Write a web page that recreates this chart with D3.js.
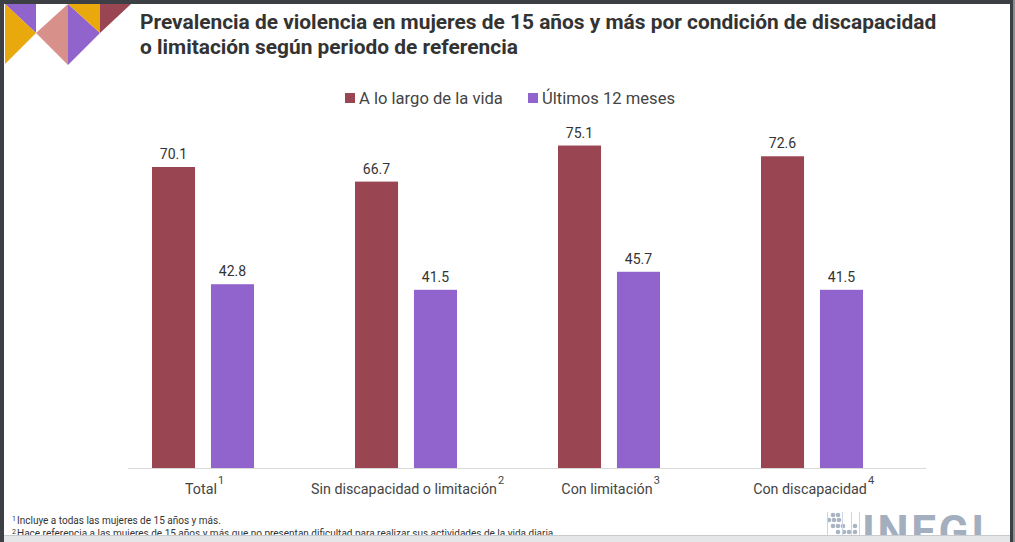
<!DOCTYPE html>
<html><head><meta charset="utf-8">
<script src="https://cdn.jsdelivr.net/npm/d3@7"></script>
<style>
html,body{margin:0;padding:0;background:#fff;}
svg{display:block;font-family:Roboto, "Noto Sans", sans-serif;}
</style></head>
<body><svg id="c" width="1015" height="542"></svg>
<script>
const categories = ["Total", "Sin discapacidad o limitación", "Con limitación", "Con discapacidad"];
const superscripts = ["1", "2", "3", "4"];
const seriesNames = ["A lo largo de la vida", "Últimos 12 meses"];
const lifetime = [70.1, 66.7, 75.1, 72.6];
const last12 = [42.8, 41.5, 45.7, 41.5];
const titleLines = ["Prevalencia de violencia en mujeres de 15 años y más por condición de discapacidad", "o limitación según periodo de referencia"];
const footnotes = ["Incluye a todas las mujeres de 15 años y más.", "Hace referencia a las mujeres de 15 años y más que no presentan dificultad para realizar sus actividades de la vida diaria."];
const colors = ["#9a4652", "#9163cc"];

const svg = d3.select("#c");
// frame
svg.append("rect").attr("x",0).attr("y",0).attr("width",1015).attr("height",542).attr("fill","#fff");
svg.append("rect").attr("x",0).attr("y",0).attr("width",1015).attr("height",4).attr("fill","#3c3f43");
svg.append("rect").attr("x",0).attr("y",0).attr("width",4).attr("height",542).attr("fill","#3c3f43");
svg.append("rect").attr("x",1013).attr("y",0).attr("width",2).attr("height",542).attr("fill","#8a8d90");

// decoration
const deco = [
  {pts:[[5,4],[36,4],[36,33]], c:"#9163cc"},
  {pts:[[5,4],[36,33],[5,64]], c:"#e9a80c"},
  {pts:[[36,33],[68,4],[68,65]], c:"#d8918a"},
  {pts:[[68,4],[100,33],[68,65]], c:"#9163cc"},
  {pts:[[68,4],[100,4],[100,33]], c:"#e9a80c"},
  {pts:[[100,4],[131,4],[100,33]], c:"#9a4652"}
];
svg.selectAll("polygon.deco").data(deco).join("polygon").attr("class","deco")
  .attr("points", d => d.pts.map(p => p.join(",")).join(" ")).attr("fill", d => d.c);

// title
svg.selectAll("text.title").data(titleLines).join("text").attr("class","title")
  .attr("x",140).attr("y",(d,i)=>29+i*25).attr("font-size",20.9).attr("font-weight","bold")
  .attr("fill","#333").text(d=>d);

// scales
const step = 203, gw = 102, x0start = 101.5;
const x0 = d3.scaleBand().domain(categories).range([x0start, x0start + step*categories.length]);
const gx = c => x0(c) + (x0.bandwidth()-gw)/2;
const x1 = d3.scaleBand().domain(seriesNames).range([0, gw]).paddingInner(0.27);
const y = d3.scaleLinear().domain([0, 80]).range([468, 124.5]);

const data = categories.map((c,i)=>({cat:c, i, vals:[lifetime[i], last12[i]]}));
const groups = svg.append("g").selectAll("g.grp").data(data).join("g").attr("class","grp")
  .attr("transform", d => `translate(${gx(d.cat)},0)`);
groups.selectAll("rect").data(d => d.vals.map((v,k)=>({v,k}))).join("rect")
  .attr("x", d => x1(seriesNames[d.k])).attr("width", x1.bandwidth())
  .attr("y", d => y(d.v)).attr("height", d => y(0)-y(d.v)).attr("fill", d => colors[d.k]);
groups.selectAll("text.val").data(d => d.vals.map((v,k)=>({v,k}))).join("text").attr("class","val")
  .attr("x", d => x1(seriesNames[d.k]) + x1.bandwidth()/2).attr("y", d => y(d.v)-8)
  .attr("text-anchor","middle").attr("font-size",14).attr("fill","#333").text(d => d.v.toFixed(1));

// baseline
svg.append("line").attr("x1",128).attr("x2",926).attr("y1",468.5).attr("y2",468.5).attr("stroke","#d9d9d9").attr("stroke-width",1);

// category labels
const labels = svg.selectAll("g.lab").data(data).join("g").attr("class","lab");
labels.append("text").attr("x", d => x0(d.cat)+x0.bandwidth()/2 - 2).attr("y",494).attr("text-anchor","middle")
  .attr("font-size",14.3).attr("fill","#444").text(d=>d.cat)
  .each(function(d){
    const bb = this.getBBox();
    d3.select(this.parentNode).append("text").attr("x", bb.x+bb.width+1).attr("y",484)
      .attr("font-size",11).attr("fill","#444").text(superscripts[d.i]);
  });

// legend
const legX = [345, 528];
const leg = svg.selectAll("g.leg").data(seriesNames).join("g").attr("class","leg")
  .attr("transform",(d,i)=>`translate(${legX[i]},93)`);
leg.append("rect").attr("width",10).attr("height",10).attr("fill",(d,i)=>colors[i]);
leg.append("text").attr("x",14).attr("y",11).attr("font-size",16.6).attr("fill","#444").text(d=>d);

// footnotes
const fn = svg.selectAll("g.fn").data(footnotes).join("g").attr("class","fn");
fn.append("text").attr("x",12).attr("y",(d,i)=>521+i*13).attr("font-size",7).attr("fill","#333").text((d,i)=>String(i+1));
fn.append("text").attr("x",17).attr("y",(d,i)=>524+i*13).attr("font-size",10).attr("fill","#333").text(d=>d);

// logo
const logo = svg.append("g");
const dots = [[833,515],[838,515],[829,520],[834,520],[839,520],[833,526],[838,526],[843,526],[838,532],[844,532],[849,532],[855,526],[855,532]];
logo.selectAll("circle").data(dots).join("circle").attr("cx",d=>d[0]).attr("cy",d=>d[1]).attr("r",2.3).attr("fill","#a9b4c2");
[827.5,842.5,851.5,859.5].forEach(xv => logo.append("line").attr("x1",xv).attr("x2",xv).attr("y1",512).attr("y2",536).attr("stroke","#c9d7e6").attr("stroke-width",1));
logo.append("text").attr("x",862).attr("y",547).attr("font-size",44).attr("font-weight","bold").attr("fill","#a3afbf").attr("textLength",122).text("INEGI");

// bottom cover
svg.append("rect").attr("x",4).attr("y",535).attr("width",1006).attr("height",7).attr("fill","#e4e6e8");
svg.append("rect").attr("x",4).attr("y",535).attr("width",1006).attr("height",1).attr("fill","#c8cbce");
svg.append("rect").attr("x",1010).attr("y",0).attr("width",3).attr("height",542).attr("fill","#3c3f43");
</script></body></html>
